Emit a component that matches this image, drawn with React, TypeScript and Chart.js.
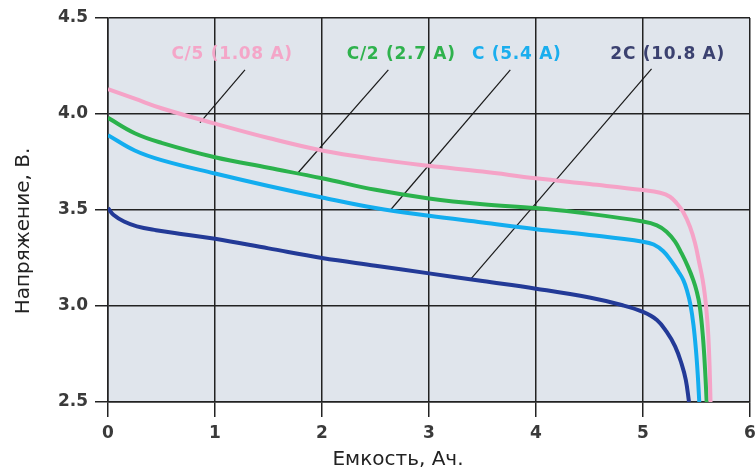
import React, { useEffect, useRef } from "react";
import { Chart, registerables } from "chart.js";

Chart.register(...registerables);

// Capacity (Ah) and voltage (V) readings per discharge curve
const c5X = [0, 0.25, 0.5, 1, 1.5, 2, 2.5, 3, 3.5, 4, 4.5, 5, 5.16, 5.252, 5.315, 5.374, 5.439, 5.486, 5.526, 5.558, 5.578, 5.594, 5.61, 5.622, 5.631];
const c5Y = [4.13, 4.08, 4.03, 3.95, 3.875, 3.81, 3.765, 3.73, 3.7, 3.665, 3.635, 3.604, 3.59, 3.569, 3.535, 3.491, 3.413, 3.328, 3.224, 3.135, 3.057, 2.969, 2.849, 2.693, 2.5];

const c2X = [0, 0.25, 0.5, 1, 1.5, 2, 2.5, 3, 3.5, 4, 4.5, 5, 5.13, 5.22, 5.3, 5.36, 5.42, 5.47, 5.5, 5.53, 5.56, 5.58, 5.595];
const c2Y = [3.98, 3.9, 3.85, 3.775, 3.72, 3.665, 3.605, 3.56, 3.53, 3.51, 3.48, 3.44, 3.42, 3.387, 3.335, 3.275, 3.205, 3.135, 3.08, 3.0, 2.84, 2.67, 2.5];

const c1X = [0, 0.25, 0.5, 1, 1.5, 2, 2.5, 3, 3.5, 4, 4.5, 5, 5.1, 5.19, 5.27, 5.33, 5.377, 5.411, 5.444, 5.472, 5.495, 5.512, 5.526];
const c1Y = [3.89, 3.81, 3.76, 3.69, 3.625, 3.565, 3.51, 3.47, 3.435, 3.4, 3.37, 3.335, 3.32, 3.285, 3.23, 3.18, 3.135, 3.081, 3.005, 2.9, 2.77, 2.64, 2.5];

const c2cX = [0, 0.05, 0.15, 0.27, 0.45, 0.7, 1, 1.5, 2, 2.5, 3, 3.5, 4, 4.5, 4.8, 5, 5.13, 5.22, 5.3, 5.36, 5.4, 5.43];
const c2cY = [3.51, 3.475, 3.44, 3.415, 3.395, 3.374, 3.35, 3.3, 3.25, 3.21, 3.17, 3.13, 3.09, 3.044, 3.005, 2.969, 2.927, 2.866, 2.79, 2.7, 2.615, 2.5];

// Labels and leader lines (data units)
const labelTexts = ["C/5 (1.08 A)", "C/2 (2.7 A)", "C (5.4 A)", "2C (10.8 A)"];
const labelX = [1.16, 2.74, 3.82, 5.23];
const labelY = [4.307, 4.307, 4.307, 4.307];
const leaderStartX = [1.28, 2.62, 3.76, 5.08];
const leaderStartY = [4.23, 4.23, 4.23, 4.235];
const leaderEndX = [0.86, 1.77, 2.64, 3.39];
const leaderEndY = [3.955, 3.69, 3.5, 3.14];

const xTicks = [0, 1, 2, 3, 4, 5, 6];
const yTicks = [2.5, 3.0, 3.5, 4.0, 4.5];

const xTitle = "Емкость, Ач.";
const yTitle = "Напряжение, В.";

const seriesColors = ["#f5a3c7", "#2bb24c", "#13adef", "#233a97"];
const labelColors = ["#f4a6c8", "#2fb24d", "#1aaeee", "#3b4170"];

const toPts = (xs: number[], ys: number[]) => xs.map((x, i) => ({ x, y: ys[i] }));

export default function App() {
  const ref = useRef<HTMLCanvasElement | null>(null);

  useEffect(() => {
    if (!ref.current) return;
    const curves = [
      toPts(c5X, c5Y),
      toPts(c2X, c2Y),
      toPts(c1X, c1Y),
      toPts(c2cX, c2cY),
    ];
    const datasets: any[] = curves.map((d, i) => ({
      data: d,
      borderColor: seriesColors[i],
      borderWidth: 4,
      pointRadius: 0,
      tension: 0.4,
      fill: false,
    }));
    leaderStartX.forEach((sx, i) => {
      datasets.push({
        data: [
          { x: sx, y: leaderStartY[i] },
          { x: leaderEndX[i], y: leaderEndY[i] },
        ],
        borderColor: "#1a1a1a",
        borderWidth: 1.2,
        pointRadius: 0,
        tension: 0,
        fill: false,
      });
    });

    const bgPlugin = {
      id: "bg",
      beforeDraw(chart: any) {
        const { ctx, chartArea } = chart;
        ctx.save();
        ctx.fillStyle = "#e0e5ec";
        ctx.fillRect(chartArea.left, chartArea.top, chartArea.right - chartArea.left, chartArea.bottom - chartArea.top);
        ctx.restore();
      },
    };

    const textPlugin = {
      id: "texts",
      afterDraw(chart: any) {
        const { ctx, scales } = chart;
        const xs = scales.x;
        const ys = scales.y;
        ctx.save();
        ctx.font = "bold 17px 'DejaVu Sans'";
        (ctx as any).letterSpacing = "0.7px";
        ctx.textAlign = "center";
        ctx.textBaseline = "middle";
        labelTexts.forEach((t, i) => {
          ctx.fillStyle = labelColors[i];
          ctx.fillText(t, xs.getPixelForValue(labelX[i]), ys.getPixelForValue(labelY[i]));
        });
        (ctx as any).letterSpacing = "0px";
        ctx.fillStyle = "#222";
        ctx.font = "20px 'DejaVu Sans'";
        ctx.textBaseline = "alphabetic";
        ctx.fillText(xTitle, 398, 465);
        ctx.translate(29, 231);
        ctx.rotate(-Math.PI / 2);
        ctx.fillText(yTitle, 0, 0);
        ctx.restore();
      },
    };

    const chart = new Chart(ref.current, {
      type: "line",
      data: { datasets },
      options: {
        animation: false,
        responsive: false,
        maintainAspectRatio: false,
        layout: { padding: { left: 0, right: 6, top: 18, bottom: 0 } },
        plugins: { legend: { display: false }, tooltip: { enabled: false } },
        scales: {
          x: {
            type: "linear",
            min: 0,
            max: 6,
            afterFit(scale: any) {
              scale.height = 66;
              scale.paddingLeft = 0;
              scale.paddingRight = 0;
            },
            afterBuildTicks(scale: any) {
              scale.ticks = xTicks.map((v) => ({ value: v }));
            },
            ticks: {
              color: "#3a3a3a",
              font: { family: "DejaVu Sans", size: 17, weight: "bold" },
              padding: 6,
              maxRotation: 0,
              callback: (v: any) => String(v),
            },
            grid: { color: "#222", lineWidth: 1.5, tickLength: 15, drawTicks: true },
            border: { display: true, color: "#222", width: 1.5 },
          },
          y: {
            type: "linear",
            min: 2.5,
            max: 4.5,
            afterFit(scale: any) {
              scale.width = 108;
              scale.paddingTop = 0;
              scale.paddingBottom = 0;
            },
            afterBuildTicks(scale: any) {
              scale.ticks = yTicks.map((v) => ({ value: v }));
            },
            ticks: {
              color: "#3a3a3a",
              font: { family: "DejaVu Sans", size: 17, weight: "bold" },
              padding: 7,
              callback: (v: any) => Number(v).toFixed(1),
            },
            grid: { color: "#222", lineWidth: 1.5, tickLength: 13, drawTicks: true },
            border: { display: true, color: "#222", width: 1.5 },
          },
        },
      } as any,
      plugins: [bgPlugin, textPlugin],
    });
    return () => chart.destroy();
  }, []);

  return (
    <div style={{ position: "absolute", left: 0, top: 0, width: 756, height: 468, background: "#fff" }}>
      <canvas ref={ref} width={756} height={468} style={{ width: 756, height: 468 }} />
    </div>
  );
}
